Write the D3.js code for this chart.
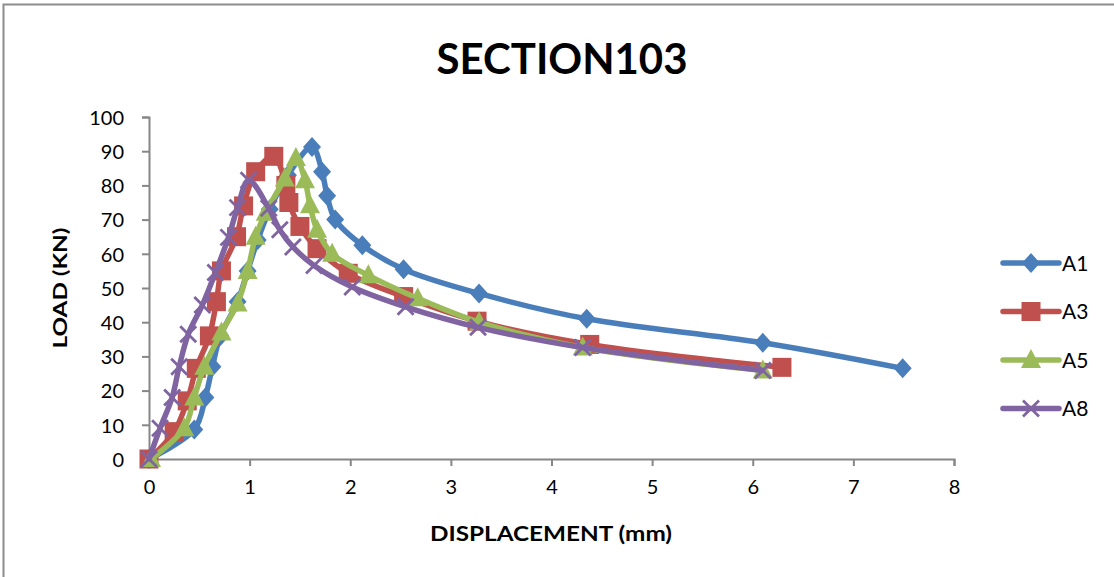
<!DOCTYPE html>
<html>
<head>
<meta charset="utf-8">
<script src="https://cdn.jsdelivr.net/npm/d3@7"></script>
<style>
  body { margin: 0; background: #fff; }
  svg text { font-family: Lato, "Open Sans", sans-serif; fill: #000; }
</style>
</head>
<body>
<div id="chart"></div>
<script>
// values
const xTicks = [0, 1, 2, 3, 4, 5, 6, 7, 8];
const yTicks = [0, 10, 20, 30, 40, 50, 60, 70, 80, 90, 100];

const a1X = [0, 0.45, 0.56, 0.63, 0.71, 0.88, 0.98, 1.08, 1.2, 1.38, 1.62, 1.72, 1.77, 1.85, 2.12, 2.53, 3.28, 4.35, 6.1, 7.49];
const a1Y = [0, 8.6, 18, 27, 36, 46, 55, 64, 73, 83, 91.2, 84, 77, 70, 62.5, 55.5, 48.4, 41, 34, 26.5];

const a3X = [0, 0.25, 0.38, 0.47, 0.6, 0.67, 0.72, 0.87, 0.94, 1.06, 1.24, 1.36, 1.39, 1.5, 1.67, 1.98, 2.53, 3.26, 4.38, 6.29];
const a3Y = [0, 8, 17, 26.5, 36, 46, 55, 65, 74, 84, 88.5, 80, 75, 68, 61.5, 54.3, 47.5, 40.3, 33.5, 26.8];

const a5X = [0.02, 0.35, 0.45, 0.55, 0.72, 0.88, 0.98, 1.06, 1.16, 1.35, 1.46, 1.55, 1.6, 1.67, 1.82, 2.18, 2.67, 3.28, 4.31, 6.1];
const a5Y = [0, 9, 18, 27, 37, 45.5, 55, 65, 72, 82, 88, 81.5, 74.2, 67, 60, 53.7, 47, 40, 32.6, 25.9];

const a8X = [0, 0.11, 0.23, 0.3, 0.39, 0.53, 0.66, 0.79, 0.88, 0.99, 1.19, 1.3, 1.43, 1.64, 2.02, 2.55, 3.27, 4.31, 6.1];
const a8Y = [0, 9, 18, 27, 36.5, 45, 54.5, 64.8, 73.5, 81.5, 73.3, 67, 62, 56.6, 50.3, 44.5, 38.5, 32.6, 25.9];

const seriesNames = ['A1', 'A3', 'A5', 'A8'];
const seriesColors = ['#4A7EBB', '#C0504D', '#9BBB59', '#8064A2'];

const width = 1114, height = 577;
const margin = { left: 149, right: 160, top: 117, bottom: 118 };
const plotW = width - margin.left - margin.right;   // 805
const plotH = height - margin.top - margin.bottom;  // 342

const svg = d3.select('#chart')
  .append('svg')
  .attr('width', width)
  .attr('height', height);

// chart area border
svg.append('rect')
  .attr('x', 3.5).attr('y', 4.5)
  .attr('width', width + 10).attr('height', height + 10)
  .attr('fill', 'none')
  .attr('stroke', '#8c8c8c')
  .attr('stroke-width', 2);

const g = svg.append('g')
  .attr('transform', `translate(${margin.left}, ${margin.top})`);

const x = d3.scaleLinear().domain([0, 8]).range([0, plotW]);
const y = d3.scaleLinear().domain([0, 100]).range([plotH, 0]);

// axes
const xAxis = g.append('g')
  .attr('transform', `translate(0, ${plotH})`)
  .call(d3.axisBottom(x).tickValues(xTicks).tickSize(7).tickPadding(14).tickFormat(d3.format('d')));
const yAxis = g.append('g')
  .call(d3.axisLeft(y).tickValues(yTicks).tickSize(7).tickPadding(18).tickFormat(d3.format('d')));

[xAxis, yAxis].forEach(a => {
  a.select('.domain').attr('stroke', '#868686').attr('stroke-width', 2);
  a.selectAll('.tick line').attr('stroke', '#868686').attr('stroke-width', 2);
  a.selectAll('.tick text')
    .style('font-family', 'Lato, "Open Sans", sans-serif')
    .style('font-size', '20px')
    .attr('fill', '#1a1a1a');
});
yAxis.selectAll('.tick text').attr('dy', '0.36em');

// titles
svg.append('text')
  .attr('x', 562).attr('y', 74)
  .attr('text-anchor', 'middle')
  .attr('textLength', 251).attr('lengthAdjust', 'spacingAndGlyphs')
  .style('font-size', '42px').style('font-weight', 'bold')
  .text('SECTION103');

svg.append('text')
  .attr('x', 551).attr('y', 541)
  .attr('text-anchor', 'middle')
  .attr('textLength', 242).attr('lengthAdjust', 'spacingAndGlyphs')
  .style('font-size', '20px').style('font-weight', 'bold')
  .text('DISPLACEMENT (mm)');

svg.append('text')
  .attr('transform', 'translate(67, 288) rotate(-90)')
  .attr('text-anchor', 'middle')
  .attr('textLength', 121).attr('lengthAdjust', 'spacingAndGlyphs')
  .style('font-size', '19px').style('font-weight', 'bold')
  .text('LOAD (KN)');

// markers
function drawMarker(sel, kind, color) {
  if (kind === 0) {
    sel.append('path').attr('d', 'M0,-10L9,0L0,10L-9,0Z').attr('fill', color);
  } else if (kind === 1) {
    sel.append('rect').attr('x', -9.5).attr('y', -9.5).attr('width', 19).attr('height', 19).attr('fill', color);
  } else if (kind === 2) {
    sel.append('path').attr('d', 'M0,-11L10,8L-10,8Z').attr('fill', color);
  } else {
    sel.append('path').attr('d', 'M-8,-8L8,8M-8,8L8,-8')
      .attr('stroke', color).attr('stroke-width', 2.8).attr('fill', 'none');
  }
}

const allX = [a1X, a3X, a5X, a8X];
const allY = [a1Y, a3Y, a5Y, a8Y];

const line = d3.line()
  .x(d => x(d[0]))
  .y(d => y(d[1]))
  .curve(d3.curveCatmullRom.alpha(0.5));

allX.forEach((xs, i) => {
  const pts = xs.map((v, j) => [v, allY[i][j]]);
  const sg = g.append('g');
  sg.append('path')
    .datum(pts)
    .attr('d', line)
    .attr('fill', 'none')
    .attr('stroke', seriesColors[i])
    .attr('stroke-width', 5.5)
    .attr('stroke-linejoin', 'round')
    .attr('stroke-linecap', 'round');
  sg.selectAll('g.m')
    .data(pts)
    .enter()
    .append('g')
    .attr('class', 'm')
    .attr('transform', d => `translate(${x(d[0])}, ${y(d[1])})`)
    .each(function () { drawMarker(d3.select(this), i, seriesColors[i]); });
});

// legend
seriesNames.forEach((name, i) => {
  const ly = 263 + i * 48.5;
  const lg = svg.append('g');
  lg.append('line')
    .attr('x1', 1003).attr('x2', 1059)
    .attr('y1', ly).attr('y2', ly)
    .attr('stroke', seriesColors[i])
    .attr('stroke-width', 5.5)
    .attr('stroke-linecap', 'round');
  const mg = lg.append('g').attr('transform', `translate(1031, ${ly})`);
  drawMarker(mg, i, seriesColors[i]);
  lg.append('text')
    .attr('x', 1062).attr('y', ly)
    .attr('dy', '0.36em')
    .style('font-size', '21px')
    .text(name);
});
</script>
</body>
</html>
